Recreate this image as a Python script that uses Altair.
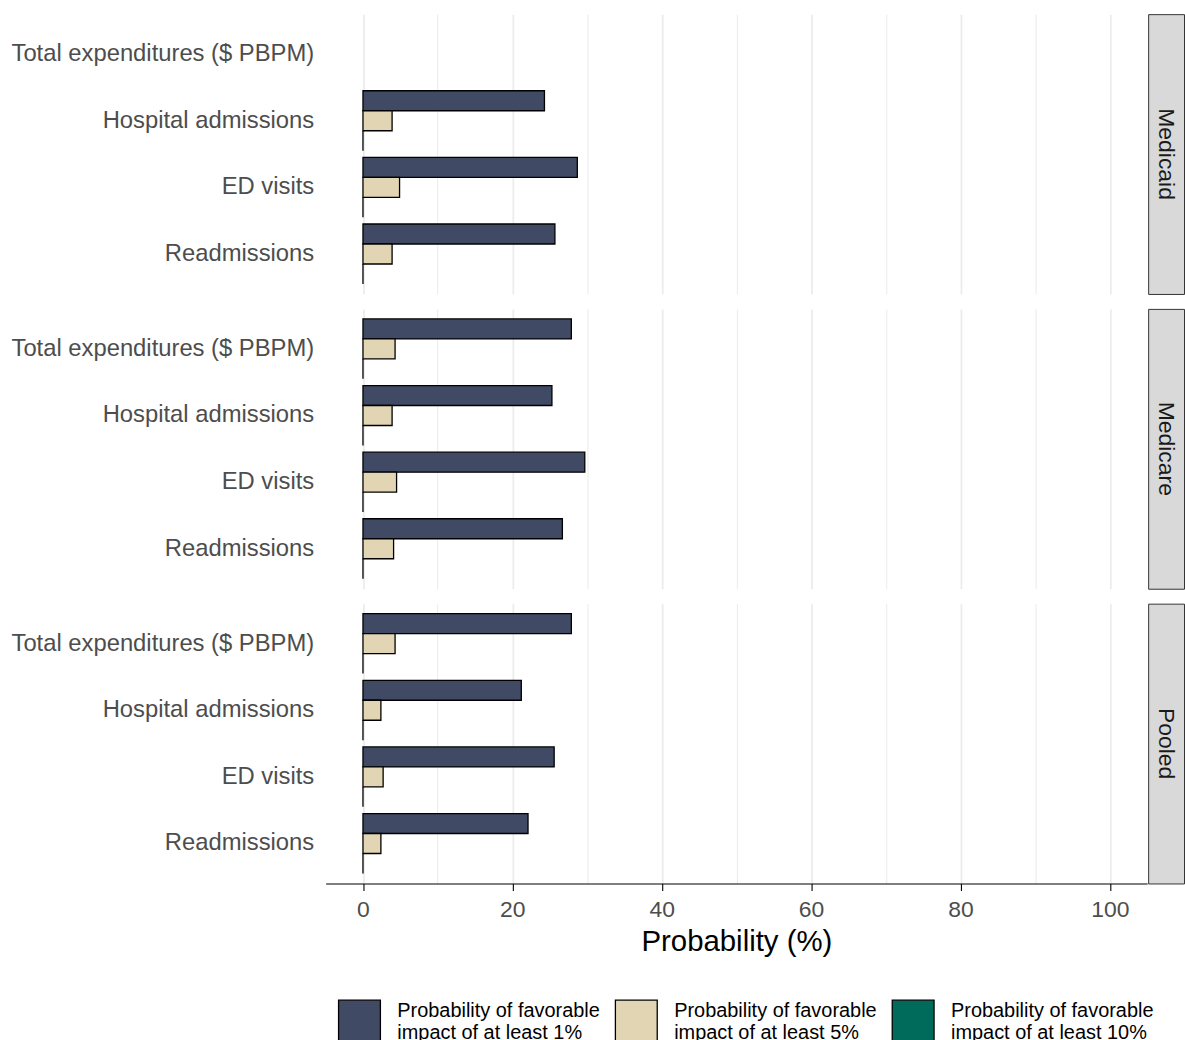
import altair as alt
import pandas as pd

FONT = "Liberation Sans"

panels = ["Medicaid", "Medicare", "Pooled"]
measures = ["Total expenditures ($ PBPM)", "Hospital admissions", "ED visits", "Readmissions"]
series = [
    "Probability of favorable impact of at least 1%",
    "Probability of favorable impact of at least 5%",
    "Probability of favorable impact of at least 10%",
]
colors = ["#414A65", "#E2D5B3", "#006B5B"]

# values in measure order (None = not estimated)
medicaid_1 = [None, 24.3, 28.7, 25.7]
medicaid_5 = [None, 3.9, 4.9, 3.9]
medicaid_10 = [None, 0.0, 0.0, 0.0]
medicare_1 = [27.9, 25.3, 29.7, 26.7]
medicare_5 = [4.3, 3.9, 4.5, 4.1]
medicare_10 = [0.0, 0.0, 0.0, 0.0]
pooled_1 = [27.9, 21.2, 25.6, 22.1]
pooled_5 = [4.3, 2.4, 2.7, 2.4]
pooled_10 = [0.0, 0.0, 0.0, 0.0]

x_labels = [0, 20, 40, 60, 80, 100]
x_grid = [0, 10, 20, 30, 40, 50, 60, 70, 80, 90, 100]

values = {
    "Medicaid": [medicaid_1, medicaid_5, medicaid_10],
    "Medicare": [medicare_1, medicare_5, medicare_10],
    "Pooled": [pooled_1, pooled_5, pooled_10],
}

rows = []
for p in panels:
    for s, vals in zip(series, values[p]):
        for m, v in zip(measures, vals):
            if v is not None:
                rows.append({"panel": p, "measure": m, "series": s, "value": v})
df = pd.DataFrame(rows)

PANEL_W = 825
PANEL_H = 281
STRIP_W = 36

legend = alt.Legend(
    title=None,
    orient="none",
    legendX=12,
    legendY=989,
    direction="horizontal",
    columns=3,
    symbolType="square",
    symbolSize=1764,
    symbolStrokeColor="black",
    symbolStrokeWidth=1.3,
    symbolOpacity=1,
    labelFontSize=20,
    labelFont=FONT,
    labelColor="black",
    labelOffset=16,
    labelBaseline="bottom",
    columnPadding=12,
    labelLimit=400,
    padding=0,
    labelExpr="[substring(datum.label, 0, indexof(datum.label, ' impact')), substring(datum.label, indexof(datum.label, ' impact') + 1)]",
)

grid_width = {"condition": {"test": "datum.value % 20 === 0", "value": 1.7}, "value": 1}


def panel(name, bottom):
    d = df[df.panel == name]
    if bottom:
        xaxis = alt.Axis(
            values=x_grid,
            labelExpr="datum.value % 20 === 0 ? datum.label : ''",
            tickOpacity={"condition": {"test": "datum.value % 20 !== 0", "value": 0}, "value": 1},
            title="Probability (%)",
            grid=True,
            gridColor="#EBEBEB",
            gridWidth=grid_width,
            domain=True,
            domainColor="black",
            domainWidth=1.1,
            ticks=True,
            tickColor="black",
            tickSize=7,
            tickWidth=1.1,
            labelFont=FONT,
            labelFontSize=23,
            labelColor="#4D4D4D",
            labelPadding=8,
            labelFlush=False,
            titleFont=FONT,
            titleFontSize=29.5,
            titleFontWeight="normal",
            titleColor="black",
            titlePadding=6,
        )
    else:
        xaxis = alt.Axis(
            values=x_grid,
            labels=False,
            ticks=False,
            domain=False,
            title=None,
            grid=True,
            gridColor="#EBEBEB",
            gridWidth=grid_width,
        )
    yaxis = alt.Axis(
        title=None,
        domain=False,
        ticks=False,
        grid=False,
        labelFont=FONT,
        labelFontSize=23.9,
        labelColor="#4D4D4D",
        labelPadding=12,
        labelLimit=400,
    )
    bars = alt.Chart(d).mark_bar(stroke="black", strokeWidth=1.3).encode(
        x=alt.X("value:Q", scale=alt.Scale(domain=[-5, 105], nice=False), axis=xaxis),
        y=alt.Y(
            "measure:N",
            sort=measures,
            scale=alt.Scale(domain=measures, paddingInner=0.1, paddingOuter=0.15),
            axis=yaxis,
        ),
        yOffset=alt.YOffset(
            "series:N",
            sort=series,
            scale=alt.Scale(domain=series, paddingInner=0, paddingOuter=0),
        ),
        fill=alt.Fill("series:N", scale=alt.Scale(domain=series, range=colors), legend=legend),
    ).properties(
        width=PANEL_W,
        height=PANEL_H,
        view=alt.ViewBackground(stroke="transparent"),
    )
    strip = alt.Chart(pd.DataFrame({"panel": [name]})).mark_text(
        angle=90, fontSize=23, font=FONT, color="#1A1A1A"
    ).encode(
        text="panel:N",
        x=alt.value(STRIP_W / 2),
        y=alt.value(PANEL_H / 2),
    ).properties(
        width=STRIP_W,
        height=PANEL_H,
        view=alt.ViewBackground(fill="#D9D9D9", stroke="#333333", strokeWidth=1),
    )
    return alt.hconcat(bars, strip, spacing=0)


chart = alt.vconcat(
    *[panel(p, p == panels[-1]) for p in panels], spacing=13
).properties(
    padding={"left": 10, "top": 11, "right": 0, "bottom": 0}
).configure(
    font=FONT
).configure_view(
    strokeWidth=0
)

chart.save("out.html", embed_options={"renderer": "svg", "actions": False})
